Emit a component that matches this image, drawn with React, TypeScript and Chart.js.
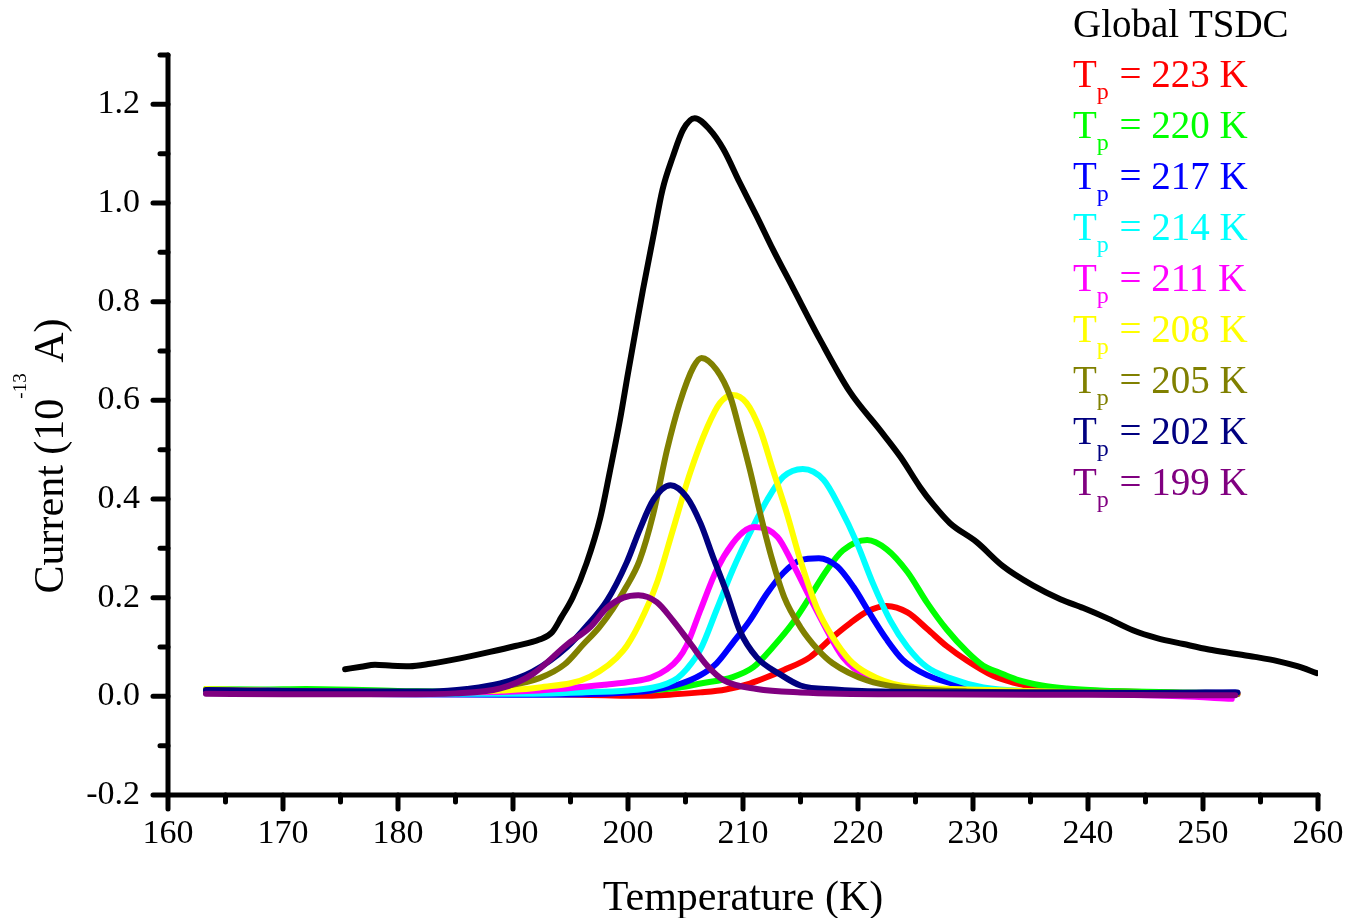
import React, { useEffect, useRef } from 'react';
import { Chart, registerables } from 'chart.js';

Chart.register(...registerables);

const FONT = '"Liberation Serif", "Times New Roman", serif';

const X_MIN = 160;
const X_MAX = 260;
const Y_MIN = -0.2;
const Y_MAX = 1.3;
const X_TICKS = [160, 170, 180, 190, 200, 210, 220, 230, 240, 250, 260];
const X_MINOR_TICKS = [165, 175, 185, 195, 205, 215, 225, 235, 245, 255];
const Y_TICKS = [-0.2, 0, 0.2, 0.4, 0.6, 0.8, 1.0, 1.2];
const Y_MINOR_TICKS = [-0.1, 0.1, 0.3, 0.5, 0.7, 0.9, 1.1, 1.3];

const X_TITLE = 'Temperature (K)';
const Y_TITLE_PARTS = ['Current (10', '-13', ' A)'];
const GLOBAL_LABEL = 'Global TSDC';
const TP_VALUES = [223, 220, 217, 214, 211, 208, 205, 202, 199];
const TP_COLORS = ['#FF0000', '#00FF00', '#0000FF', '#00FFFF', '#FF00FF', '#FFFF00', '#808000', '#000080', '#800080'];

// [Temperature (K), Current (1e-13 A)]
const GLOBAL_TSDC = [
  [175.4, 0.055], [176.8, 0.06], [178, 0.064], [179.5, 0.062], [181, 0.061], [182.8, 0.066],
  [185.4, 0.077], [188, 0.09], [190.2, 0.102], [192.3, 0.115], [193.4, 0.13], [194.2, 0.16],
  [195.2, 0.201], [196.4, 0.27], [197.6, 0.363], [198.4, 0.453], [199.3, 0.56], [200.0, 0.655],
  [200.8, 0.76], [201.3, 0.824], [202.2, 0.932], [203.0, 1.027], [203.9, 1.094], [204.8, 1.149],
  [205.8, 1.172], [207.1, 1.149], [208.3, 1.109], [209.7, 1.042], [211.2, 0.973], [212.6, 0.906],
  [214.3, 0.83], [216.7, 0.723], [219.3, 0.617], [221.9, 0.54], [223.7, 0.485], [225.4, 0.424],
  [226.5, 0.39], [228, 0.351], [230.3, 0.313], [232.6, 0.264], [235.2, 0.225], [237.6, 0.197],
  [239.6, 0.179], [241.8, 0.157], [243.9, 0.134], [246, 0.118], [248.3, 0.106], [250.5, 0.095],
  [252.6, 0.087], [254.5, 0.08], [256.4, 0.072], [258.2, 0.061], [259.9, 0.047],
];

const TP_223 = [
  [163.3, 0.012], [168, 0.01], [175, 0.008], [185, 0.006], [192, 0.005], [198, 0.002], [201, 0.001],
  [204, 0.004], [206.3, 0.008], [208.5, 0.014], [210.6, 0.026], [212, 0.038], [213.5, 0.053],
  [215.8, 0.079], [217.8, 0.12], [219.3, 0.148], [220.8, 0.172], [222.5, 0.183], [224.3, 0.17],
  [226, 0.137], [227.7, 0.102], [229.5, 0.072], [231.7, 0.042], [233.5, 0.028], [235.2, 0.02],
  [238, 0.014], [241, 0.011], [246, 0.008], [253, 0.005],
];

const TP_220 = [
  [163.3, 0.015], [168, 0.014], [172, 0.015], [180, 0.011], [190, 0.008], [198, 0.008], [202, 0.012],
  [204.5, 0.018], [206.3, 0.026], [209.1, 0.039], [210.9, 0.059], [212.6, 0.1], [214.3, 0.148],
  [215.8, 0.201], [217.3, 0.256], [218.7, 0.296], [220.8, 0.317], [222.5, 0.298], [224.3, 0.252],
  [226, 0.19], [227.7, 0.136], [229.5, 0.09], [230.9, 0.062], [232.3, 0.048], [233.8, 0.034],
  [236, 0.022], [238.2, 0.016], [241, 0.012], [244, 0.01], [248, 0.008], [252.6, 0.006],
];

const TP_217 = [
  [163.3, 0.008], [170, 0.006], [180, 0.004], [190, 0.003], [196, 0.004], [200, 0.008], [202, 0.012],
  [204.5, 0.025], [206.3, 0.043], [207.7, 0.067], [209.1, 0.108], [210.6, 0.154], [212.1, 0.209],
  [213.5, 0.25], [215, 0.276], [216.6, 0.28], [218.2, 0.263], [219.6, 0.222], [221, 0.169],
  [222.5, 0.115], [223.9, 0.074], [226, 0.043], [228.9, 0.022], [232.3, 0.012], [238, 0.008],
  [245, 0.006], [252.8, 0.008],
];

const TP_214 = [
  [163.3, 0.01], [170, 0.008], [180, 0.005], [190, 0.005], [196, 0.008], [200, 0.012], [202.2, 0.018],
  [203.4, 0.026], [204.3, 0.037], [205.1, 0.055], [206.3, 0.095], [207.7, 0.175], [209.1, 0.256],
  [210.6, 0.331], [212.1, 0.398], [213.5, 0.445], [215.2, 0.461], [217, 0.439], [218.4, 0.384],
  [219.9, 0.311], [221.3, 0.229], [222.8, 0.154], [224.3, 0.1], [226, 0.059], [228, 0.037],
  [230.9, 0.018], [235, 0.01], [242, 0.007], [252.8, 0.005],
];

const TP_211 = [
  [163.3, 0.012], [168, 0.012], [175, 0.01], [185, 0.008], [192.3, 0.012], [198.2, 0.024],
  [200.4, 0.03], [202, 0.038], [203.4, 0.055], [204.4, 0.077], [205.1, 0.103], [206.3, 0.175],
  [207.7, 0.256], [209.1, 0.31], [210.3, 0.338], [211, 0.343], [213, 0.323], [214.3, 0.27],
  [215.8, 0.201], [217.3, 0.134], [218.7, 0.079], [220.8, 0.039], [223.7, 0.018], [228, 0.01],
  [240, 0.005], [248, 0.0], [252.5, -0.005],
];

const TP_208 = [
  [163.3, 0.015], [170, 0.01], [180, 0.008], [186, 0.01], [189, 0.012], [192.3, 0.018], [196.7, 0.04],
  [199.6, 0.093], [201, 0.148], [202.5, 0.229], [203.9, 0.337], [205.4, 0.453], [206.9, 0.546],
  [208, 0.595], [209.1, 0.611], [210.3, 0.595], [211.5, 0.54], [212.6, 0.459], [213.8, 0.372],
  [215, 0.275], [216.4, 0.181], [217.8, 0.12], [219.3, 0.073], [220.8, 0.047], [223.7, 0.022],
  [229.5, 0.014], [240, 0.008], [252.8, 0.005],
];

const TP_205 = [
  [163.3, 0.012], [170, 0.01], [180, 0.008], [186, 0.012], [189, 0.02], [192.3, 0.037], [194.5, 0.065],
  [196.1, 0.105], [197.5, 0.14], [198.7, 0.178], [199.8, 0.22], [201, 0.275], [202.2, 0.37],
  [203.4, 0.5], [204.5, 0.595], [205.7, 0.668], [206.4, 0.686], [207.7, 0.662], [208.9, 0.607],
  [209.7, 0.54], [210.6, 0.459], [211.5, 0.37], [212.5, 0.28], [213.6, 0.2], [215, 0.14],
  [216.5, 0.095], [217.8, 0.067], [220.8, 0.032], [223.7, 0.018], [229.5, 0.01], [240, 0.008],
  [253, 0.005],
];

const TP_202 = [
  [163.3, 0.013], [170, 0.011], [178, 0.01], [183, 0.01], [186, 0.015], [188.9, 0.026], [191.7, 0.05],
  [194.7, 0.1], [196.5, 0.145], [198.2, 0.195], [199.9, 0.272], [201, 0.337], [202.2, 0.398],
  [203.7, 0.428], [205.1, 0.404], [206.3, 0.351], [207.4, 0.282], [208.6, 0.209], [209.7, 0.134],
  [211.2, 0.079], [213.2, 0.045], [215, 0.022], [218, 0.014], [222, 0.01], [235, 0.008],
  [245, 0.007], [253, 0.008],
];

const TP_199 = [
  [163.3, 0.005], [170, 0.004], [180, 0.004], [185, 0.006], [188.9, 0.016], [191.7, 0.045],
  [194.7, 0.105], [196.7, 0.14], [198.2, 0.18], [199.6, 0.2], [200.9, 0.205], [202.5, 0.191],
  [203.9, 0.154], [205.4, 0.108], [206.9, 0.062], [208.3, 0.033], [211.2, 0.015], [215, 0.008],
  [225, 0.004], [240, 0.003], [252.8, 0.002],
];

const TP_SERIES = [TP_223, TP_220, TP_217, TP_214, TP_211, TP_208, TP_205, TP_202, TP_199];

const toPoints = (arr: number[][]) => arr.map(([x, y]) => ({ x, y }));

const decorPlugin = {
  id: 'decor',
  afterDraw(chart: any) {
    const { ctx, chartArea, scales } = chart;
    const { left, right, top, bottom } = chartArea;
    const xs = scales.x;
    const ys = scales.y;
    ctx.save();
    ctx.strokeStyle = '#000';
    ctx.lineWidth = 5;
    ctx.lineCap = 'round';
    ctx.lineJoin = 'round';
    ctx.beginPath();
    ctx.moveTo(left, top);
    ctx.lineTo(left, bottom);
    ctx.lineTo(right, bottom);
    ctx.stroke();
    ctx.beginPath();
    X_TICKS.forEach((v) => {
      const px = xs.getPixelForValue(v);
      ctx.moveTo(px, bottom);
      ctx.lineTo(px, bottom + 14);
    });
    X_MINOR_TICKS.forEach((v) => {
      const px = xs.getPixelForValue(v);
      ctx.moveTo(px, bottom);
      ctx.lineTo(px, bottom + 7);
    });
    Y_TICKS.forEach((v) => {
      const py = ys.getPixelForValue(v);
      ctx.moveTo(left, py);
      ctx.lineTo(left - 15, py);
    });
    Y_MINOR_TICKS.forEach((v) => {
      const py = ys.getPixelForValue(v);
      ctx.moveTo(left, py);
      ctx.lineTo(left - 8, py);
    });
    ctx.stroke();

    // X title
    ctx.fillStyle = '#000';
    ctx.font = `42px ${FONT}`;
    ctx.textAlign = 'center';
    ctx.textBaseline = 'alphabetic';
    ctx.fillText(X_TITLE, (left + right) / 2, 910);

    // Y title with superscript
    ctx.save();
    ctx.translate(63, 456);
    ctx.rotate(-Math.PI / 2);
    ctx.textAlign = 'left';
    const mainFont = `42px ${FONT}`;
    const supFont = `19px ${FONT}`;
    ctx.font = mainFont;
    const w0 = ctx.measureText(Y_TITLE_PARTS[0]).width;
    const w2 = ctx.measureText(Y_TITLE_PARTS[2]).width;
    ctx.font = supFont;
    const w1 = ctx.measureText(Y_TITLE_PARTS[1]).width;
    let cx = -(w0 + w1 + w2) / 2;
    ctx.font = mainFont;
    ctx.fillText(Y_TITLE_PARTS[0], cx, 0);
    cx += w0;
    ctx.font = supFont;
    ctx.fillText(Y_TITLE_PARTS[1], cx, -37);
    cx += w1;
    ctx.font = mainFont;
    ctx.fillText(Y_TITLE_PARTS[2], cx, 0);
    ctx.restore();

    // Legend text
    const lx = 1073;
    ctx.textAlign = 'left';
    ctx.font = `39px ${FONT}`;
    ctx.fillStyle = '#000';
    ctx.fillText(GLOBAL_LABEL, lx, 37);
    TP_VALUES.forEach((tp, i) => {
      const by = 87 + 51 * i;
      ctx.fillStyle = TP_COLORS[i];
      ctx.font = `39px ${FONT}`;
      ctx.fillText('T', lx, by);
      const wT = ctx.measureText('T').width;
      ctx.font = `24px ${FONT}`;
      ctx.fillText('p', lx + wT, by + 12);
      const wp = ctx.measureText('p').width;
      ctx.font = `39px ${FONT}`;
      ctx.fillText(` = ${tp} K`, lx + wT + wp + 1, by);
    });
    ctx.restore();
  },
};

export default function App() {
  const ref = useRef<HTMLCanvasElement | null>(null);
  useEffect(() => {
    document.body.style.margin = '0';
    const canvas = ref.current;
    if (!canvas) return;
    const datasets: any[] = [
      {
        label: GLOBAL_LABEL,
        data: toPoints(GLOBAL_TSDC),
        borderColor: '#000000',
        borderWidth: 6,
        order: 20,
      },
      ...TP_SERIES.map((s, i) => ({
        label: `Tp = ${TP_VALUES[i]} K`,
        data: toPoints(s),
        borderColor: TP_COLORS[i],
        borderWidth: 6,
        order: 10 - i,
      })),
    ].map((d) => ({
      ...d,
      pointRadius: 0,
      fill: false,
      cubicInterpolationMode: 'monotone',
      borderCapStyle: 'round',
      borderJoinStyle: 'round',
    }));

    const chart = new Chart(canvas, {
      type: 'line',
      data: { datasets },
      options: {
        responsive: false,
        animation: false,
        parsing: false as any,
        layout: { padding: { left: 0, top: 55, right: 31, bottom: 0 } },
        plugins: { legend: { display: false }, tooltip: { enabled: false } },
        scales: {
          x: {
            type: 'linear',
            min: X_MIN,
            max: X_MAX,
            afterBuildTicks: (s: any) => {
              s.ticks = X_TICKS.map((v) => ({ value: v }));
            },
            afterFit: (s: any) => {
              s.height = 123;
            },
            grid: { display: true, drawOnChartArea: false, color: 'rgba(0,0,0,0)', tickLength: 15 },
            border: { display: false },
            ticks: {
              color: '#000',
              font: { family: FONT, size: 34 },
              padding: 4,
              maxRotation: 0,
              autoSkip: false,
              callback: (v: any) => String(v),
            },
          },
          y: {
            type: 'linear',
            min: Y_MIN,
            max: Y_MAX,
            afterBuildTicks: (s: any) => {
              s.ticks = Y_TICKS.map((v) => ({ value: v }));
            },
            afterFit: (s: any) => {
              s.width = 168;
            },
            grid: { display: true, drawOnChartArea: false, color: 'rgba(0,0,0,0)', tickLength: 15 },
            border: { display: false },
            ticks: {
              color: '#000',
              font: { family: FONT, size: 34 },
              padding: 13,
              autoSkip: false,
              callback: (v: any) => Number(v).toFixed(1),
            },
          },
        },
      },
      plugins: [decorPlugin],
    });
    return () => chart.destroy();
  }, []);
  return (
    <div style={{ width: 1349, height: 918, background: '#fff' }}>
      <canvas ref={ref} width={1349} height={918} style={{ display: 'block' }} />
    </div>
  );
}
